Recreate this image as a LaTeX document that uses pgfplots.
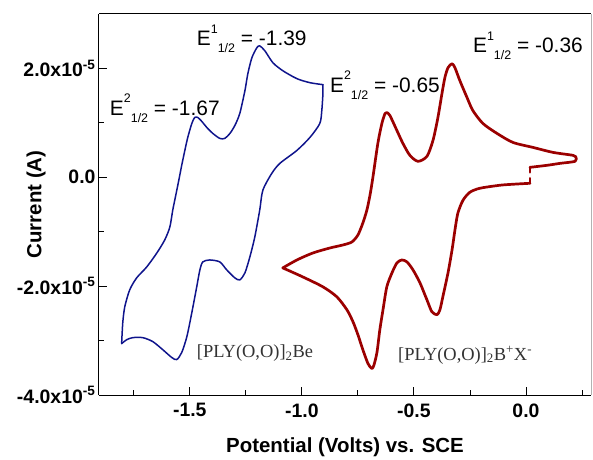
\documentclass[border=0pt]{standalone}
\usepackage{fontspec}
\setmainfont{Liberation Sans}
\newfontfamily\timesf{Liberation Serif}
\usepackage{pgfplots}
\pgfplotsset{compat=1.18}
\definecolor{cvblue}{RGB}{15,20,140}
\definecolor{cvred}{RGB}{155,0,0}
\newcommand{\Eh}[1]{E\raisebox{12.5bp}{\fontsize{12.5}{12.5}\selectfont #1}\raisebox{-7bp}{\fontsize{12.5}{12.5}\selectfont 1/2}}
\begin{document}
\begin{tikzpicture}
\useasboundingbox (-99bp,-65bp) rectangle (494bp,395bp);
\begin{axis}[
  at={(0,0)}, anchor=south west,
  scale only axis, width=492bp, height=381bp,
  xmin=-1.905, xmax=0.29, ymin=-4, ymax=3,
  clip=false,
  axis x line*=box, axis y line*=left,
  axis line style={-, line width=1bp, black},
  xtick={-1.5,-1,-0.5,0}, xticklabels={-1.5,-1.0,-0.5,0.0},
  minor xtick={-1.75,-1.25,-0.75,-0.25,0.25},
  ytick={-4,-2,0,2},
  yticklabels={-4.0x10\textsuperscript{-5},-2.0x10\textsuperscript{-5},0.0,2.0x10\textsuperscript{-5}},
  minor ytick={-3,-1,1},
  tick align=inside, xtick pos=bottom, ytick pos=left,
  major tick length=8bp, minor tick length=5bp,
  tick style={black, line width=0.9bp},
  ticklabel style={font=\fontsize{19.5}{20}\selectfont\bfseries},
  xticklabel style={yshift=-5bp},
  xlabel={Potential (Volts) vs. SCE},
  ylabel={Current (A)},
  xlabel style={at={(axis description cs:0.5,-0.152)}, anchor=base, font=\fontsize{20.5}{22}\selectfont\bfseries},
  ylabel style={at={(axis description cs:-0.128,0.5)}, anchor=center, rotate=0, font=\fontsize{20.5}{22}\selectfont\bfseries},
  blue/.style={cvblue, line width=1.5bp, line join=round, line cap=round, smooth, tension=0.45},
  red/.style={cvred, line width=2.7bp, line join=round, line cap=round, smooth, tension=0.45},
]
\draw[gray!60, line width=0.8bp] (rel axis cs:1,0) -- (rel axis cs:1,1);
\addplot[blue] coordinates {
(-1.804,-3.056) (-1.799,-2.672) (-1.790,-2.379) (-1.768,-2.068) (-1.737,-1.848)
(-1.692,-1.647) (-1.647,-1.391) (-1.612,-1.153) (-1.589,-0.915) (-1.576,-0.604)
(-1.5625,-0.330) (-1.549,-0.055) (-1.536,0.220) (-1.522,0.494) (-1.509,0.732) (-1.491,0.988)
(-1.478,1.098) (-1.464,1.098) (-1.446,1.025) (-1.424,0.915) (-1.397,0.805)
(-1.366,0.714) (-1.344,0.714) (-1.321,0.805) (-1.299,0.951) (-1.277,1.171)
(-1.254,1.592) (-1.241,1.903) (-1.223,2.196) (-1.201,2.379) (-1.188,2.415)
(-1.165,2.324) (-1.129,2.104) (-1.085,1.958) (-1.022,1.812) (-0.964,1.738)
(-0.906,1.702)
};
\addplot[blue] coordinates {
(-0.906,1.702) (-0.906,1.537) (-0.911,1.226) (-0.920,0.988) (-0.964,0.732)
(-1.022,0.494) (-1.098,0.256) (-1.134,0.073) (-1.174,-0.238) (-1.188,-0.604)
(-1.210,-1.098) (-1.232,-1.464) (-1.254,-1.757) (-1.277,-1.885) (-1.299,-1.848)
(-1.335,-1.702) (-1.366,-1.555) (-1.411,-1.519) (-1.442,-1.555) (-1.455,-1.702)
(-1.469,-2.013) (-1.491,-2.489) (-1.513,-2.928) (-1.536,-3.220) (-1.558,-3.349)
(-1.580,-3.312) (-1.621,-3.166) (-1.665,-3.019) (-1.710,-2.946) (-1.754,-2.946)
(-1.781,-2.983) (-1.804,-3.056)
};
\addplot[red, sharp plot] coordinates {(0.018,-0.018) (0.018,-0.110)};
\addplot[red] coordinates {
(0.018,-0.110) (-0.058,-0.128) (-0.116,-0.146) (-0.205,-0.201)
(-0.250,-0.274) (-0.281,-0.421) (-0.304,-0.659) (-0.317,-0.970) (-0.330,-1.336)
(-0.348,-1.757) (-0.371,-2.196) (-0.384,-2.434) (-0.397,-2.525) (-0.420,-2.470)
(-0.442,-2.251) (-0.473,-1.940) (-0.504,-1.702) (-0.531,-1.555) (-0.554,-1.519)
(-0.576,-1.574) (-0.598,-1.757) (-0.621,-2.013) (-0.638,-2.434) (-0.652,-2.799)
(-0.665,-3.220) (-0.679,-3.458) (-0.688,-3.513) (-0.705,-3.422) (-0.728,-3.166)
(-0.750,-2.891) (-0.772,-2.653) (-0.799,-2.434) (-0.844,-2.196) (-0.906,-2.013)
(-0.996,-1.830) (-1.085,-1.665)
};
\addplot[red] coordinates {
(-1.085,-1.665) (-1.022,-1.519) (-0.951,-1.391) (-0.875,-1.299)
(-0.817,-1.244) (-0.777,-1.189) (-0.750,-1.061) (-0.728,-0.842) (-0.710,-0.604)
(-0.696,-0.329) (-0.683,0.000) (-0.661,0.622) (-0.643,0.988) (-0.629,1.171)
(-0.621,1.189) (-0.607,1.134) (-0.576,0.860) (-0.549,0.622) (-0.518,0.403)
(-0.482,0.293) (-0.442,0.384) (-0.415,0.677) (-0.393,1.098) (-0.375,1.537)
(-0.362,1.830) (-0.348,2.013) (-0.330,2.086) (-0.317,2.013) (-0.295,1.775)
(-0.263,1.464) (-0.237,1.226) (-0.192,0.988) (-0.129,0.805) (-0.058,0.640)
(0.031,0.549) (0.121,0.457) (0.210,0.403) (0.223,0.366)
};
\addplot[red] coordinates {
(0.223,0.366) (0.219,0.293) (0.152,0.256) (0.094,0.220) (0.018,0.183)
};
\addplot[red, sharp plot] coordinates {(0.018,0.183) (0.018,0.091)};
\node[anchor=base west, inner sep=0pt, font=\fontsize{21}{23}\selectfont] at (axis cs:-1.469,2.42) {\Eh{1}\ = -1.39};
\node[anchor=base west, inner sep=0pt, font=\fontsize{21}{23}\selectfont] at (axis cs:-1.857,1.138) {\Eh{2}\ = -1.67};
\node[anchor=base west, inner sep=0pt, font=\fontsize{21}{23}\selectfont] at (axis cs:-0.875,1.56) {\Eh{2}\ = -0.65};
\node[anchor=base west, inner sep=0pt, font=\fontsize{21}{23}\selectfont] at (axis cs:-0.237,2.29) {\Eh{1}\ = -0.36};
\node[anchor=base west, inner sep=0pt, text=black!80, font=\timesf\fontsize{18.5}{20}\selectfont] at (axis cs:-1.469,-3.32) {[PLY(O,O)]\textsubscript{2}Be};
\node[anchor=base west, inner sep=0pt, text=black!80, font=\timesf\fontsize{18.5}{20}\selectfont] at (axis cs:-0.571,-3.36) {[PLY(O,O)]\textsubscript{2}B\textsuperscript{+}X\textsuperscript{-}};
\end{axis}
\end{tikzpicture}
\end{document}
